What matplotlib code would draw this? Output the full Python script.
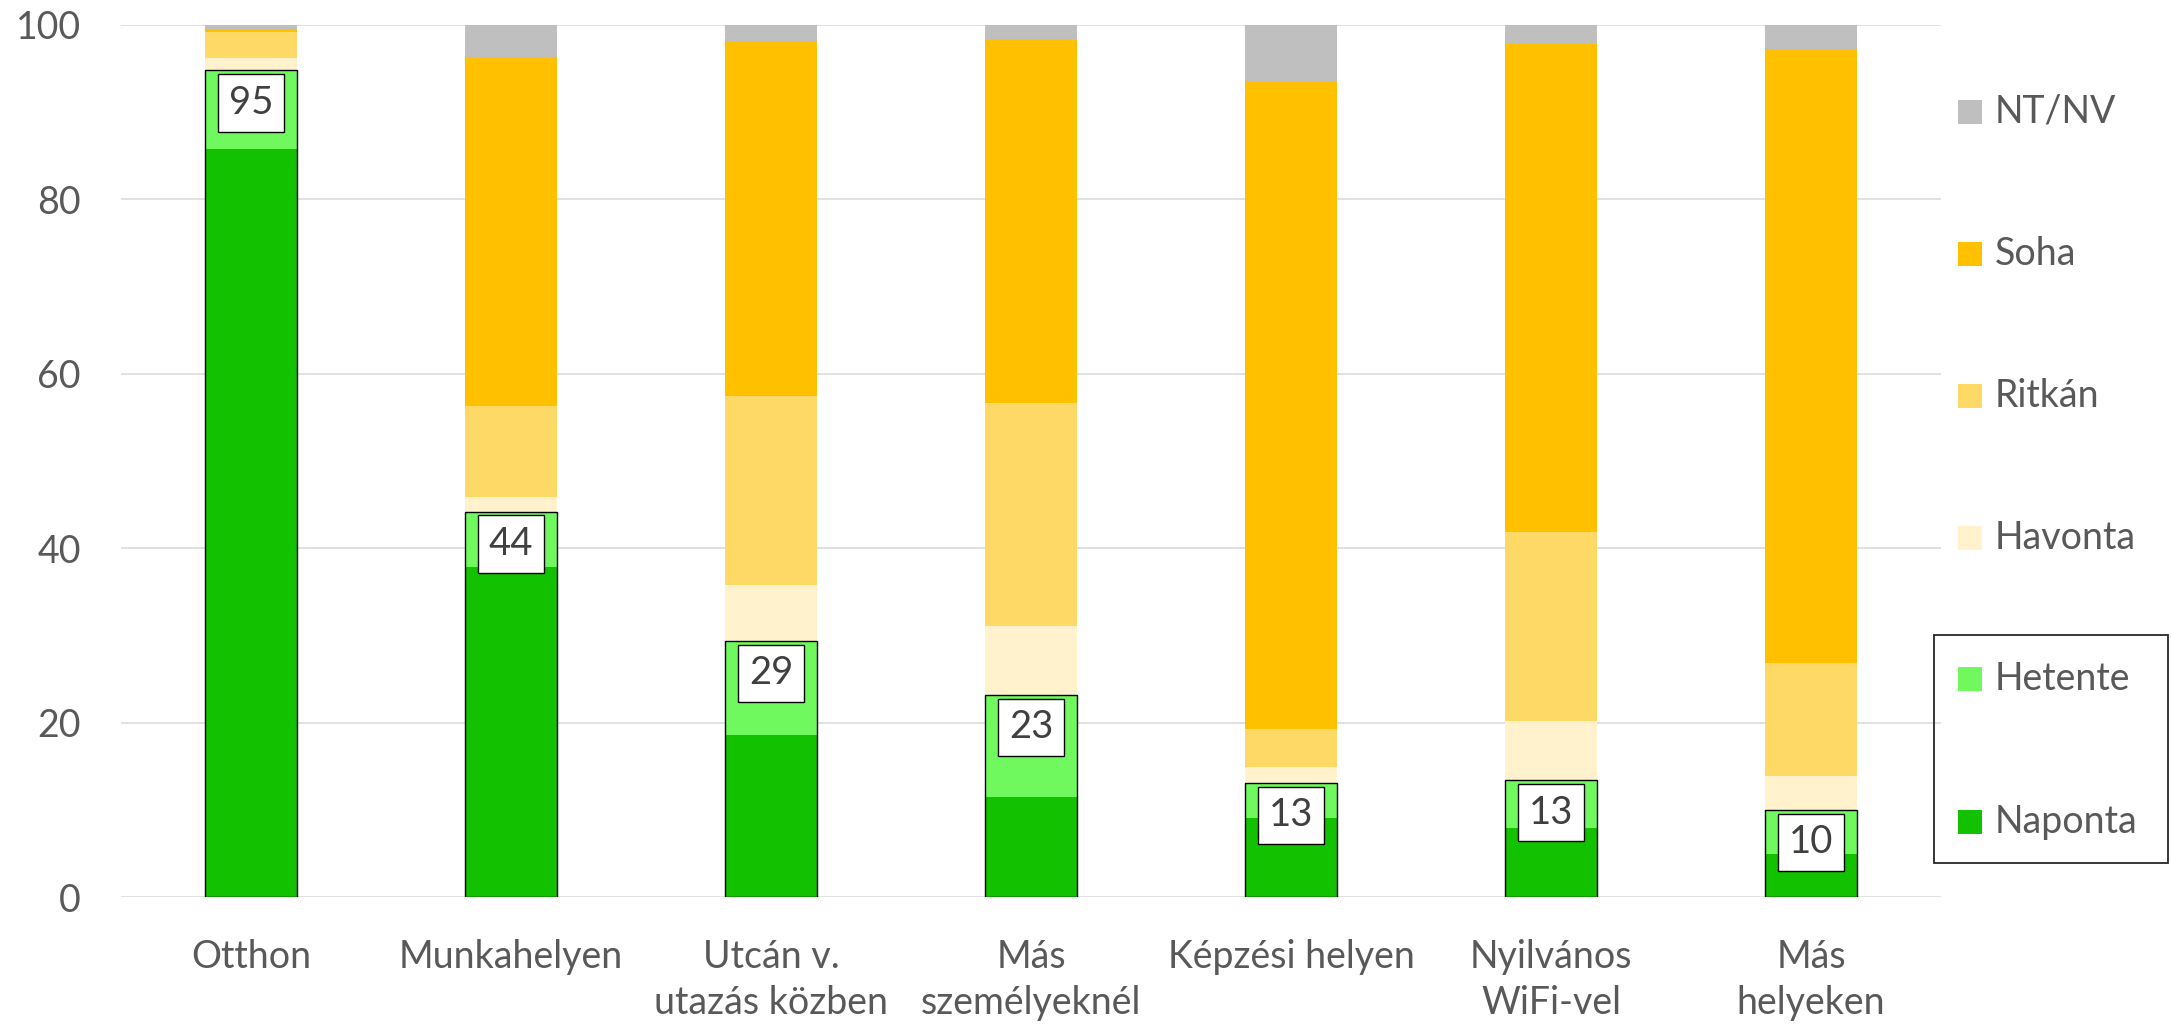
import matplotlib
matplotlib.use("Agg")
import matplotlib.pyplot as plt
from matplotlib.patches import Rectangle

plt.rcParams['font.family'] = ['Lato', 'DejaVu Sans']

categories = ["Otthon", "Munkahelyen", "Utcán v.\nutazás közben", "Más\nszemélyeknél",
              "Képzési helyen", "Nyilvános\nWiFi-vel", "Más\nhelyeken"]
naponta = [85.8, 37.8, 18.6, 11.5, 9.1, 7.9, 4.9]
hetente = [9.0, 6.4, 10.8, 11.7, 4.0, 5.5, 5.1]
havonta = [1.4, 1.7, 6.4, 7.9, 1.8, 6.8, 3.9]
ritkan = [3.0, 10.4, 21.7, 25.6, 4.4, 21.7, 12.9]
soha = [0.3, 40.0, 40.6, 41.7, 74.2, 55.9, 70.4]
ntnv = [0.5, 3.7, 1.9, 1.6, 6.5, 2.2, 2.8]

series_names = ["Naponta", "Hetente", "Havonta", "Ritkán", "Soha", "NT/NV"]
series_vals = [naponta, hetente, havonta, ritkan, soha, ntnv]
colors = ["#12C200", "#6FF95F", "#FFF2CC", "#FFD966", "#FFC000", "#BFBFBF"]

W, H = 2171, 1025
fig = plt.figure(figsize=(W / 100, H / 100), dpi=100)
ax = fig.add_axes([121 / W, (H - 897) / H, (1941 - 121) / W, (897 - 25) / H])

x = list(range(len(categories)))
bw = 0.357
bottom = [0.0] * len(x)
for name, vals, col in zip(series_names, series_vals, colors):
    ax.bar(x, vals, bw, bottom=bottom, color=col, edgecolor='none', zorder=2, label=name)
    bottom = [b + v for b, v in zip(bottom, vals)]

totals = [a + b for a, b in zip(naponta, hetente)]
ax.bar(x, totals, bw, fill=False, edgecolor='black', linewidth=1.0, zorder=3)

for xi, t in zip(x, totals):
    ax.annotate(f"{round(t)}", xy=(xi, t), xytext=(0, -10.5), textcoords='offset points',
                ha='center', va='top', fontsize=27.5, color='#404040', zorder=4,
                bbox=dict(boxstyle='square,pad=0.28', facecolor='white', edgecolor='black', linewidth=1.0))

ax.set_xlim(-0.5, len(x) - 0.5)
ax.set_ylim(0, 100)
ax.set_yticks([0, 20, 40, 60, 80, 100])
ax.yaxis.grid(True, color='#D9D9D9', linewidth=1.1, zorder=0)
ax.set_axisbelow(True)
for s in ax.spines.values():
    s.set_visible(False)
ax.set_xticks(x)
ax.set_xticklabels(categories, linespacing=1.35)
ax.tick_params(axis='both', length=0, labelsize=27, labelcolor='#595959')
ax.tick_params(axis='x', pad=30)
ax.tick_params(axis='y', pad=29)

# legend (top to bottom)
leg_y = [112, 254, 396, 538, 679, 822]
for name, col, yc in zip(series_names[::-1], colors[::-1], leg_y):
    fig.patches.append(Rectangle((1958 / W, (H - yc - 12) / H), 24 / W, 24 / H,
                                 transform=fig.transFigure, facecolor=col, edgecolor='none'))
    fig.text(1995 / W, (H - yc) / H, name, fontsize=27, color='#595959', va='center', ha='left')
fig.patches.append(Rectangle((1934 / W, (H - 863) / H), (2168 - 1934) / W, (863 - 635) / H,
                             transform=fig.transFigure, facecolor='none', edgecolor='#262626',
                             linewidth=1.3))

fig.savefig("out.png", dpi=100)
